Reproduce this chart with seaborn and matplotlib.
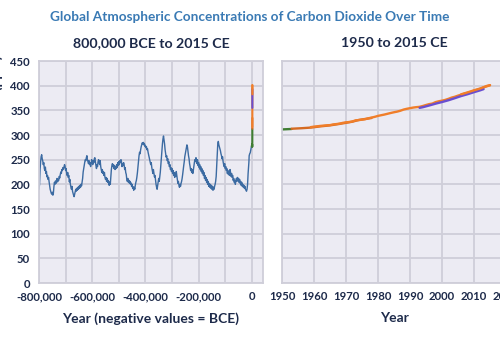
import numpy as np
import pandas as pd
import matplotlib
matplotlib.use("Agg")
import matplotlib.pyplot as plt
from matplotlib.ticker import MultipleLocator, FuncFormatter
import seaborn as sns

# --- Ice-core record (years relative to CE, thousands), CO2 in ppm ---
ice_kyr = [
    -800, -798, -796, -794, -792, -790, -788, -786, -784, -782, -780, -778, -776, -774, -772,
    -770, -768, -766, -764, -762, -760, -758, -756, -754, -752, -750, -748, -746, -744, -742,
    -740, -738, -736, -734, -732, -730, -728, -726, -724, -722, -720, -718, -716, -714, -712,
    -710, -708, -706, -704, -702, -700, -698, -696, -694, -692, -690, -688, -686, -684, -682,
    -680, -678, -676, -674, -672, -670, -668, -666, -664, -662, -660, -658, -656, -654, -652,
    -650, -648, -646, -644, -642, -640, -638, -636, -634, -632, -630, -628, -626, -624, -622,
    -620, -618, -616, -614, -612, -610, -608, -606, -604, -602, -600, -598, -596, -594, -592,
    -590, -588, -586, -584, -582, -580, -578, -576, -574, -572, -570, -568, -566, -564, -562,
    -560, -558, -556, -554, -552, -550, -548, -546, -544, -542, -540, -538, -536, -534, -532,
    -530, -528, -526, -524, -522, -520, -518, -516, -514, -512, -510, -508, -506, -504, -502,
    -500, -498, -496, -494, -492, -490, -488, -486, -484, -482, -480, -478, -476, -474, -472,
    -470, -468, -466, -464, -462, -460, -458, -456, -454, -452, -450, -448, -446, -444, -442,
    -440, -438, -436, -434, -432, -430, -428, -426, -424, -422, -420, -418, -416, -414, -412,
    -410, -408, -406, -404, -402, -400, -398, -396, -394, -392, -390, -388, -386, -384, -382,
    -380, -378, -376, -374, -372, -370, -368, -366, -364, -362, -360, -358, -356, -354, -352,
    -350, -348, -346, -344, -342, -340, -338, -336, -334, -332, -330, -328, -326, -324, -322,
    -320, -318, -316, -314, -312, -310, -308, -306, -304, -302, -300, -298, -296, -294, -292,
    -290, -288, -286, -284, -282, -280, -278, -276, -274, -272, -270, -268, -266, -264, -262,
    -260, -258, -256, -254, -252, -250, -248, -246, -244, -242, -240, -238, -236, -234, -232,
    -230, -228, -226, -224, -222, -220, -218, -216, -214, -212, -210, -208, -206, -204, -202,
    -200, -198, -196, -194, -192, -190, -188, -186, -184, -182, -180, -178, -176, -174, -172,
    -170, -168, -166, -164, -162, -160, -158, -156, -154, -152, -150, -148, -146, -144, -142,
    -140, -138, -136, -134, -132, -130, -128, -126, -124, -122, -120, -118, -116, -114, -112,
    -110, -108, -106, -104, -102, -100, -98, -96, -94, -92, -90, -88, -86, -84, -82,
    -80, -78, -76, -74, -72, -70, -68, -66, -64, -62, -60, -58, -56, -54, -52,
    -50, -48, -46, -44, -42, -40, -38, -36, -34, -32, -30, -28, -26, -24, -22,
    -20, -18, -16, -14, -12, -11, -10, -8, -6, -4, -2, -1,
]
ice_ppm = [
    190, 200, 230, 245, 256, 260, 252, 248, 240, 244, 232, 228, 235, 222, 226,
    215, 218, 210, 214, 205, 198, 190, 186, 182, 180, 184, 178, 182, 195, 204,
    200, 207, 202, 206, 212, 205, 210, 208, 216, 213, 220, 225, 222, 230, 228,
    234, 231, 236, 240, 237, 228, 232, 222, 218, 224, 214, 218, 205, 210, 200,
    194, 190, 196, 186, 182, 178, 175, 180, 184, 190, 186, 192, 188, 194, 190,
    196, 192, 198, 194, 200, 197, 205, 212, 225, 232, 240, 245, 250, 248, 254,
    258, 250, 246, 242, 248, 240, 244, 236, 242, 250, 246, 240, 248, 244, 252,
    254, 246, 238, 232, 240, 236, 246, 250, 244, 240, 248, 236, 230, 224, 230,
    222, 226, 218, 224, 214, 210, 214, 206, 212, 204, 208, 202, 198, 205, 200,
    215, 230, 238, 242, 236, 240, 232, 238, 230, 236, 232, 240, 234, 244, 238,
    246, 240, 248, 244, 250, 246, 236, 242, 238, 244, 240, 230, 234, 224, 220,
    210, 206, 212, 204, 208, 202, 206, 200, 203, 196, 200, 192, 195, 188, 194,
    190, 198, 204, 208, 215, 224, 236, 248, 258, 265, 262, 270, 276, 280, 284,
    282, 285, 280, 283, 277, 279, 274, 276, 270, 272, 265, 260, 254, 250, 246,
    240, 244, 234, 228, 222, 230, 222, 215, 218, 208, 200, 194, 190, 198, 205,
    212, 206, 215, 225, 240, 255, 268, 282, 292, 298, 290, 282, 270, 262, 255,
    258, 248, 252, 242, 246, 236, 240, 230, 234, 226, 232, 222, 228, 218, 224,
    214, 222, 216, 226, 218, 210, 202, 206, 198, 194, 200, 196, 202, 206, 212,
    220, 230, 238, 246, 256, 262, 268, 274, 280, 276, 266, 258, 252, 242, 236,
    228, 232, 224, 230, 222, 228, 236, 244, 250, 246, 254, 248, 242, 250, 238,
    244, 234, 240, 230, 236, 226, 232, 222, 228, 218, 224, 212, 218, 208, 214,
    204, 210, 200, 206, 196, 202, 194, 200, 192, 198, 190, 196, 188, 194, 190,
    196, 200, 206, 216, 238, 262, 282, 287, 280, 276, 272, 268, 262, 258, 252,
    256, 246, 240, 236, 242, 232, 236, 228, 232, 222, 228, 220, 226, 218, 230,
    224, 216, 222, 214, 218, 208, 212, 204, 208, 200, 206, 212, 206, 214, 208,
    212, 204, 210, 202, 206, 198, 204, 196, 200, 194, 198, 192, 196, 190, 188,
    186, 190, 200, 222, 238, 245, 258, 262, 264, 270, 276, 278,
]

# --- Recent ice-core and firn record (CE years) ---
lawdome_year = [0, 200, 400, 600, 800, 1000, 1200, 1400, 1600, 1700, 1800, 1850, 1900, 1920, 1940, 1950, 1953]
lawdome_ppm = [277, 277, 279, 279, 280, 280, 281, 280, 276, 277, 282, 285, 296, 303, 310, 311.3, 312.2]

firn_year = [1953, 1956, 1959, 1962, 1965, 1968, 1970, 1972, 1974, 1976, 1978]
firn_ppm = [312.7, 313.7, 315.0, 317.5, 319.5, 322.5, 324.7, 327.0, 330.5, 332.5, 334.5]

# --- Direct atmospheric measurements (annual means, ppm) ---
mlo_year = list(range(1959, 2016))
mlo_ppm = [
    315.97, 316.91, 317.64, 318.45, 318.99, 319.62, 320.04, 321.38, 322.16, 323.04,
    324.62, 325.68, 326.32, 327.45, 329.68, 330.18, 331.11, 332.04, 333.83, 335.40,
    336.84, 338.75, 340.11, 341.45, 343.05, 344.65, 346.12, 347.42, 349.19, 351.57,
    353.12, 354.39, 355.61, 356.45, 357.10, 358.83, 360.82, 362.61, 363.73, 366.70,
    368.38, 369.55, 371.14, 373.28, 375.80, 377.52, 379.80, 381.90, 383.79, 385.60,
    387.43, 389.90, 391.65, 393.85, 396.52, 398.65, 400.83,
]

spo_year = [1993, 1994, 1996, 1998, 2000, 2002, 2004, 2006, 2008, 2010, 2012, 2013]
spo_ppm = [355.0, 356.3, 359.8, 363.5, 366.8, 370.4, 374.6, 379.0, 382.7, 386.8, 390.7, 393.0]

lmp_year = [2006, 2008, 2010, 2012, 2014, 2015]
lmp_ppm = [382.5, 386.4, 390.6, 394.4, 399.5, 401.0]

# --- Styling ---
BG = "#ECEBF3"
GRID = "#CFCED9"
NAVY = "#1D2A4A"
TITLE_BLUE = "#3A7AB4"
ICE_BLUE = "#3C6BA2"
GREEN = "#3F7D33"
ORANGE = "#F07E2A"
DARK_ORANGE = "#D56A22"
PURPLE = "#6A4FD0"

sns.set_theme(style="whitegrid")
plt.rcParams["font.family"] = ["Lato", "DejaVu Sans"]

fig = plt.figure(figsize=(5.0, 3.44), dpi=100)
W, H = 500.0, 344.0
ax_l = fig.add_axes([39 / W, 1 - 283 / H, 224 / W, 222 / H])
ax_r = fig.add_axes([282 / W, 1 - 283 / H, 224 / W, 222 / H])

ice = pd.DataFrame({"year": np.array(ice_kyr) * 1000, "ppm": ice_ppm})

modern = [
    (lawdome_year, lawdome_ppm, GREEN),
    (firn_year, firn_ppm, DARK_ORANGE),
    (mlo_year, mlo_ppm, ORANGE),
    (spo_year, spo_ppm, PURPLE),
    (lmp_year, lmp_ppm, ORANGE),
]

# Left: full record
sns.lineplot(data=ice, x="year", y="ppm", ax=ax_l, color=ICE_BLUE, linewidth=1.0)
for yrs, vals, col in modern:
    sns.lineplot(x=yrs, y=vals, ax=ax_l, color=col, linewidth=1.5)

# Right: 1950 onward
for yrs, vals, col in modern:
    sns.lineplot(x=yrs, y=vals, ax=ax_r, color=col, linewidth=1.7)

for ax in (ax_l, ax_r):
    ax.set_facecolor(BG)
    ax.set_ylim(0, 450)
    ax.yaxis.set_major_locator(MultipleLocator(50))
    ax.grid(True, which="both", color=GRID, linewidth=1.3)
    ax.set_axisbelow(True)
    for s in ax.spines.values():
        s.set_color(GRID)
        s.set_linewidth(1.3)
    ax.tick_params(length=0, labelsize=8.2, labelcolor=NAVY)
    ax.set_ylabel("")

ax_l.set_xlim(-800000, 42000)
ax_l.xaxis.set_major_locator(MultipleLocator(200000))
ax_l.xaxis.set_minor_locator(MultipleLocator(100000))
ax_l.xaxis.set_major_formatter(FuncFormatter(lambda v, p: f"{int(v):,}"))
ax_l.tick_params(axis="y", pad=6.5)
ax_l.tick_params(axis="x", pad=6)

ax_r.set_xlim(1950, 2020)
ax_r.xaxis.set_major_locator(MultipleLocator(10))
ax_r.tick_params(axis="y", labelleft=False)
ax_r.tick_params(axis="x", pad=6)

for ax in (ax_l, ax_r):
    for lab in ax.get_xticklabels() + ax.get_yticklabels():
        lab.set_fontweight("bold")

ax_l.set_xlabel("Year (negative values = BCE)", fontsize=10, fontweight="bold", color=NAVY, labelpad=7)
ax_r.set_xlabel("Year", fontsize=10, fontweight="bold", color=NAVY, labelpad=7)

fig.text(250 / W, 1 - 17 / H, "Global Atmospheric Concentrations of Carbon Dioxide Over Time",
         ha="center", va="center", fontsize=9.8, fontweight="bold", color=TITLE_BLUE)
fig.text(151 / W, 1 - 43 / H, "800,000 BCE to 2015 CE", ha="center", va="center",
         fontsize=10.2, fontweight="bold", color=NAVY)
fig.text(394 / W, 1 - 43 / H, "1950 to 2015 CE", ha="center", va="center",
         fontsize=10.2, fontweight="bold", color=NAVY)
fig.text(3 / W, 1 - 55 / H, "Carbon dioxide concentration (ppm)", rotation=90,
         ha="right", va="top", fontsize=10, fontweight="bold", color=NAVY)

fig.savefig("out.png", dpi=100, facecolor="white")
